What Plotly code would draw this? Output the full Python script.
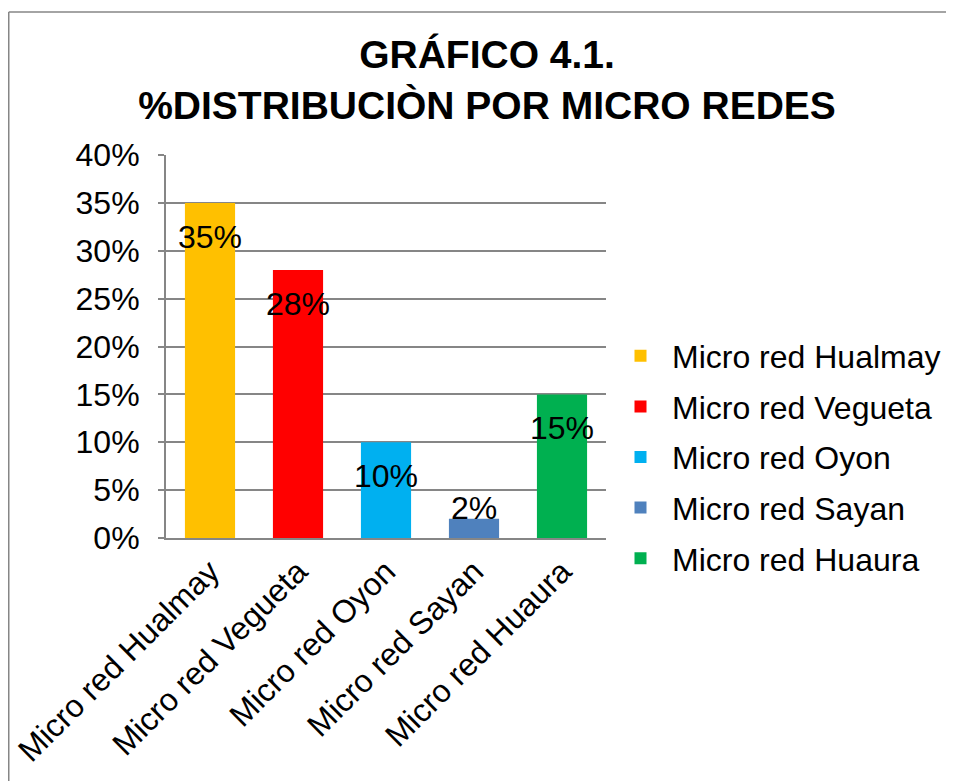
import plotly.graph_objects as go

# Data
categories = ["Micro red Hualmay", "Micro red Vegueta", "Micro red Oyon",
              "Micro red Sayan", "Micro red Huaura"]
values = [35, 28, 10, 2, 15]
colors = ["#FFC000", "#FF0000", "#00B0F0", "#4F81BD", "#00B050"]
y_ticks = [0, 5, 10, 15, 20, 25, 30, 35, 40]
y_tick_labels = [f"{t}%" for t in y_ticks]

FONT = "Liberation Sans, Arial, sans-serif"
GRAY = "#868686"
FS = 32
OFF = 8  # page body margin
W, H = 954 - OFF, 781 - OFF  # keep the figure inside the window

# plot area in figure pixels
px_l, px_r, px_t, px_b = 166 - OFF, 606 - OFF, 155 - OFF, 538 - OFF
w, h = px_r - px_l, px_b - px_t
def px_x(p): return (p - OFF - px_l) / w
def px_y(p): return (px_b - (p - OFF)) / h

fig = go.Figure()

for cat, val, col in zip(categories, values, colors):
    fig.add_trace(go.Bar(
        x=[cat], y=[val], name=cat,
        marker=dict(color=col, line=dict(width=0)),
        legendgroup=cat,
    ))

# Data labels (Excel style: inside near the end, small bars above)
for cat, val in zip(categories, values):
    fig.add_annotation(
        x=cat, y=val, text=f"{val}%", showarrow=False,
        yanchor="middle", yshift=-34 if val >= 5 else 11,
        font=dict(family=FONT, size=FS, color="black"),
    )

# Outer chart border (gray): only top and left edges are visible
border = dict(type="line", xref="paper", yref="paper",
              line=dict(color=GRAY, width=1.5), layer="below")
fig.add_shape(**border, x0=px_x(OFF + 0.75), x1=px_x(1100), y0=px_y(12), y1=px_y(12))
fig.add_shape(**border, x0=px_x(OFF + 0.75), x1=px_x(OFF + 0.75), y0=px_y(12), y1=px_y(1000))

fig.update_layout(
    width=W, height=H,
    paper_bgcolor="white", plot_bgcolor="white",
    margin=dict(l=px_l, r=W - px_r, t=px_t, b=H - px_b, pad=0, autoexpand=False),
    barmode="relative", bargap=0.43,
    title=dict(
        text="<b>GRÁFICO 4.1.<br>%DISTRIBUCIÒN POR MICRO REDES</b>",
        x=479 / W, xanchor="center", y=1 - 60 / H, yanchor="top",
        font=dict(family=FONT, size=39, color="black"),
        automargin=False,
    ),
    font=dict(family=FONT, size=FS, color="black"),
    legend=dict(
        x=px_x(609), xanchor="left", y=px_y(457), yanchor="middle",
        font=dict(family=FONT, size=FS, color="black"),
        tracegroupgap=6, itemwidth=53, bgcolor="rgba(0,0,0,0)",
    ),
    showlegend=True,
)

fig.update_xaxes(
    tickangle=-45, showline=True, linecolor=GRAY, linewidth=2,
    showgrid=False, ticks="", tickfont=dict(family=FONT, size=FS, color="black"),
    automargin=False,
)
fig.update_yaxes(
    range=[0, 40], tickvals=y_ticks, ticktext=y_tick_labels,
    showline=True, linecolor=GRAY, linewidth=2,
    showgrid=True, gridcolor=GRAY, gridwidth=1.5,
    ticks="outside", ticklen=6, tickcolor=GRAY, tickwidth=1.5,
    ticklabelstandoff=12,
    tickfont=dict(family=FONT, size=FS, color="black"),
    zeroline=False, automargin=False,
)

fig.write_html("out.html")
